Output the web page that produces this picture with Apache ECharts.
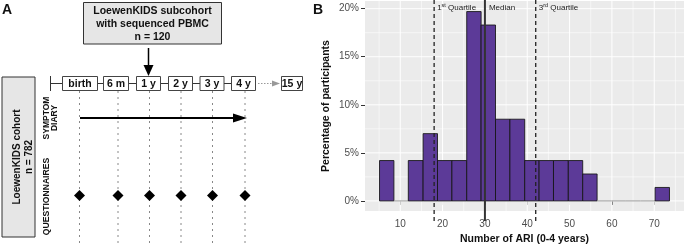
<!DOCTYPE html>
<html>
<head>
<meta charset="utf-8">
<script src="https://cdn.jsdelivr.net/npm/echarts@6/dist/echarts.min.js"></script>
<style>
  html, body { margin: 0; padding: 0; background: #fff; }
  #main { width: 685px; height: 245px; }
</style>
</head>
<body>
<div id="main"></div>
<script>
  // histogram: bin edges (number of ARI) and share of participants per bin (%)
  const binEdges = [5.1, 8.5, 11.9, 15.4, 18.8, 22.2, 25.7, 29.1, 32.5, 35.9, 39.4,
                    42.8, 46.2, 49.7, 53.1, 56.5, 59.9, 63.3, 66.8, 70.2, 73.6]
  const binPercent = [4.2, 0, 4.2, 7.0, 4.2, 4.2, 19.7, 18.3, 8.5, 8.5,
                      4.2, 4.2, 4.2, 4.2, 2.8, 0, 0, 0, 0, 1.4]
  const quartileValues = [18, 30, 42]
  const quartileNames = ['1st Quartile', 'Median', '3rd Quartile']
  const xTicks = [10, 20, 30, 40, 50, 60, 70]
  const xMinor = [5, 15, 25, 35, 45, 55, 65, 75]
  const yTicks = [0, 5, 10, 15, 20]
  const yMinor = [2.5, 7.5, 12.5, 17.5]

  // panel A
  const timelineLabels = ['birth', '6 m', '1 y', '2 y', '3 y', '4 y', '15 y']
  const cohortText = ['LoewenKIDS cohort', 'n = 782']
  const subcohortText = ['LoewenKIDS subcohort', 'with sequenced PBMC', 'n = 120']

  const FONT = 'Liberation Sans, Arial, Helvetica, sans-serif'

  const bars = binPercent.map(function (p, i) { return [binEdges[i], binEdges[i + 1], p] })

  // ---------- panel A drawing ----------
  const g = []
  function txt(x, y, text, size, opts) {
    opts = opts || {}
    g.push({
      type: 'text', x: x, y: y, rotation: opts.rot || 0, z: 10,
      style: {
        text: text, fontSize: size, fontWeight: opts.weight || 'bold', fontFamily: FONT,
        fill: opts.color || '#111', align: opts.align || 'center', verticalAlign: 'middle'
      }
    })
  }
  function line(x1, y1, x2, y2, style, z) {
    g.push({ type: 'line', z: z || 5, shape: { x1: x1, y1: y1, x2: x2, y2: y2 }, style: style })
  }
  function poly(points, fill) {
    g.push({ type: 'polygon', z: 6, shape: { points: points }, style: { fill: fill } })
  }

  txt(7, 10, 'A', 14, { align: 'center' })
  txt(318, 10, 'B', 14, { align: 'center' })

  // subcohort box + arrow
  g.push({ type: 'rect', z: 4, shape: { x: 83.5, y: 2.5, width: 138, height: 41.5 },
    style: { fill: '#E6E6E6', stroke: '#333', lineWidth: 1 } })
  subcohortText.forEach(function (t, i) { txt(152.5, 11.5 + i * 12.8, t, 10.5) })
  line(148.5, 48, 148.5, 67, { stroke: '#000', lineWidth: 1.5 })
  poly([[143.5, 65], [153.5, 65], [148.5, 76]], '#000')

  // timeline
  const boxes = [[62, 97], [103, 128], [136, 160], [168, 192], [199.5, 223.5], [231, 255], [281, 302]]
  const tY = 83.5
  line(50.5, 76, 50.5, 91, { stroke: '#333', lineWidth: 1 })
  line(50.5, tY, 255, tY, { stroke: '#333', lineWidth: 1 }, 3)
  line(258, tY, 273, tY, { stroke: '#999', lineWidth: 1, lineDash: [1.5, 1.5] }, 3)
  poly([[272, 80.5], [272, 86.5], [280, tY]], '#999')
  boxes.forEach(function (b, i) {
    g.push({ type: 'rect', z: 4, shape: { x: b[0] + 0.5, y: 76.5, width: b[1] - b[0], height: 14 },
      style: { fill: '#fff', stroke: '#444', lineWidth: 1 } })
    txt((b[0] + b[1]) / 2 + 0.5, tY + 0.5, timelineLabels[i], 10.5)
  })

  // dotted verticals, symptom diary arrow, questionnaire diamonds
  const visitX = [79.5, 118, 149.5, 181, 212.5, 245]
  visitX.forEach(function (x) {
    line(x, 91, x, 243, { stroke: '#888', lineWidth: 1, lineDash: [2, 4] }, 2)
    poly([[x - 5.5, 195.5], [x, 190], [x + 5.5, 195.5], [x, 201]], '#000')
  })
  line(80, 118, 236, 118, { stroke: '#000', lineWidth: 2 })
  poly([[233, 113.5], [233, 122.5], [247, 118]], '#000')

  // cohort box and row labels
  g.push({ type: 'rect', z: 4, shape: { x: 2, y: 77, width: 33, height: 160 },
    style: { fill: '#E6E6E6', stroke: '#333', lineWidth: 1 } })
  txt(17.5, 157, cohortText[0], 10, { rot: Math.PI / 2 })
  txt(29, 157, cohortText[1], 10, { rot: Math.PI / 2 })
  txt(46.5, 118, 'SYMPTOM', 8.5, { rot: Math.PI / 2 })
  txt(55, 118, 'DIARY', 8.5, { rot: Math.PI / 2 })
  txt(46.5, 196.5, 'QUESTIONNAIRES', 8.6, { rot: Math.PI / 2 })

  // ---------- panel B ----------
  function gridLines(values, vertical, color, width) {
    return {
      type: 'custom', silent: true, z: 1,
      data: values,
      renderItem: function (params, api) {
        const cs = params.coordSys
        if (vertical) {
          const x = api.coord([api.value(0), 0])[0]
          return { type: 'line', shape: { x1: x, y1: cs.y, x2: x, y2: cs.y + cs.height },
            style: { stroke: color, lineWidth: width } }
        }
        const y = api.coord([0, api.value(0)])[1]
        return { type: 'line', shape: { x1: cs.x, y1: y, x2: cs.x + cs.width, y2: y },
          style: { stroke: color, lineWidth: width } }
      }
    }
  }

  const myChart = echarts.init(document.getElementById('main'), null, { renderer: 'canvas' })
  const option = {
    animation: false,
    textStyle: { fontFamily: FONT },
    graphic: g,
    grid: { left: 365, right: 1, top: 1, height: 210, show: true, backgroundColor: '#EBEBEB', borderWidth: 0,
      containLabel: false, outerBoundsMode: 'none' },
    xAxis: {
      type: 'value', min: 1.67, max: 77.03,
      name: 'Number of ARI (0-4 years)', nameLocation: 'middle', nameGap: 20,
      nameTextStyle: { fontSize: 10.5, fontWeight: 'bold', color: '#111', fontFamily: FONT },
      axisLine: { show: false },
      axisTick: { show: true, customValues: xTicks, length: 4, lineStyle: { color: '#333', width: 1 } },
      axisLabel: { customValues: xTicks, margin: 8, fontSize: 10, color: '#4D4D4D', fontFamily: FONT },
      splitLine: { show: false }
    },
    yAxis: {
      type: 'value', min: -1.05, max: 20.8,
      name: 'Percentage of participants', nameLocation: 'middle', nameGap: 33,
      nameTextStyle: { fontSize: 10.5, fontWeight: 'bold', color: '#111', fontFamily: FONT },
      axisLine: { show: false },
      axisTick: { show: true, customValues: yTicks, length: 4, lineStyle: { color: '#333', width: 1 } },
      axisLabel: { customValues: yTicks, margin: 6, fontSize: 10, color: '#4D4D4D', fontFamily: FONT,
        formatter: '{value}%' },
      splitLine: { show: false }
    },
    series: [
      gridLines(xMinor, true, 'rgba(255,255,255,0.55)', 1),
      gridLines(yMinor, false, 'rgba(255,255,255,0.55)', 1),
      gridLines(xTicks, true, '#FFFFFF', 1),
      gridLines(yTicks, false, '#FFFFFF', 1),
      {
        type: 'custom', z: 3,
        data: bars,
        renderItem: function (params, api) {
          const p0 = api.coord([api.value(0), 0])
          const p1 = api.coord([api.value(1), api.value(2)])
          if (api.value(2) === 0) {
            return { type: 'line', shape: { x1: p0[0], y1: p0[1], x2: p1[0], y2: p0[1] },
              style: { stroke: '#999', lineWidth: 1 } }
          }
          return { type: 'rect',
            shape: { x: p0[0], y: p1[1], width: p1[0] - p0[0], height: p0[1] - p1[1] },
            style: { fill: '#5C3A98', stroke: 'rgba(20,20,20,0.85)', lineWidth: 1 } }
        }
      },
      {
        type: 'custom', z: 5, clip: false,
        data: quartileValues,
        renderItem: function (params, api) {
          const cs = params.coordSys
          const i = params.dataIndex
          const x = api.coord([api.value(0), 0])[0]
          const isMed = i === 1
          const name = quartileNames[i]
          let text
          if (isMed) {
            text = '{n|' + name + '}'
          } else {
            text = '{n|' + name.slice(0, 1) + '}{s|' + name.slice(1, 3) + '}{n|' + name.slice(3) + '}'
          }
          const rich = {
            n: { fontSize: 8, fontFamily: FONT, fill: '#222', lineHeight: 10, verticalAlign: 'bottom' },
            s: { fontSize: 5.5, fontFamily: FONT, fill: '#222', lineHeight: 10, verticalAlign: 'top' }
          }
          return { type: 'group', children: [
            { type: 'line', shape: { x1: x, y1: cs.y - 1, x2: x, y2: cs.y + cs.height + 10 },
              style: isMed ? { stroke: '#333', lineWidth: 2 }
                           : { stroke: '#222', lineWidth: 1.3, lineDash: [4, 3] } },
            { type: 'text', x: x + (isMed ? 4 : 3), y: 2,
              style: { text: text, rich: rich, align: 'left', verticalAlign: 'top' } }
          ] }
        }
      }
    ]
  }
  myChart.setOption(option, true)
</script>
</body>
</html>
